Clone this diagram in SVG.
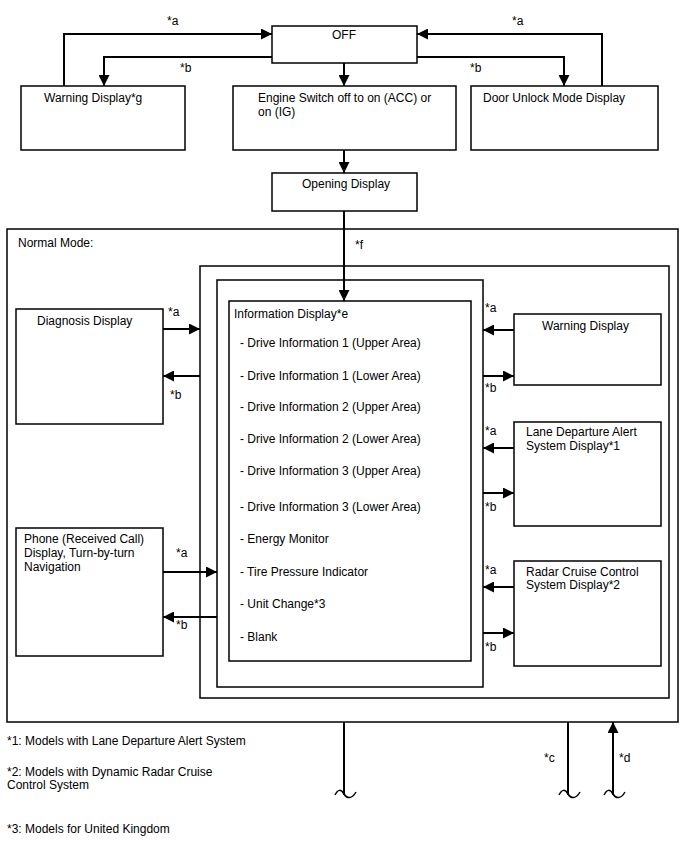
<svg xmlns="http://www.w3.org/2000/svg" width="688" height="852" viewBox="0 0 688 852">
<style>
.box{fill:#fff;stroke:#000;stroke-width:1.5}
.frame{fill:none;stroke:#000;stroke-width:1.5}
.c{fill:none;stroke:#000;stroke-width:2}
.t{fill:none;stroke:#000;stroke-width:1.5}
text{font-family:"Liberation Sans",Arial,sans-serif;font-size:12px;fill:#000}
</style>
<defs>
<marker id="ah" viewBox="0 0 10 10" refX="10" refY="5" markerWidth="11" markerHeight="11" markerUnits="userSpaceOnUse" orient="auto"><path d="M0,0 L10,5 L0,10 z" fill="#000"/></marker>
</defs>
<rect width="688" height="852" fill="#fff"/>
<g id="normal-mode"><rect class="frame" x="7" y="229" width="671" height="493"/><text x="18" y="247">Normal Mode:</text></g>
<g id="frame2"><rect class="frame" x="200" y="266" width="469" height="432"/></g>
<g id="frame3"><rect class="frame" x="217" y="280" width="266" height="407"/></g>
<g id="off"><rect class="box" x="272" y="26" width="145" height="37"/><text x="344" y="39" text-anchor="middle">OFF</text></g>
<g id="warning-g"><rect class="box" x="21" y="86" width="164" height="64"/><text x="44" y="102">Warning Display*g</text></g>
<g id="engine"><rect class="box" x="233" y="86" width="223" height="64"/><text x="258" y="102">Engine Switch off to on (ACC) or</text><text x="258" y="116">on (IG)</text></g>
<g id="door"><rect class="box" x="471" y="86" width="187" height="64"/><text x="483" y="102">Door Unlock Mode Display</text></g>
<g id="opening"><rect class="box" x="272" y="173" width="145" height="38"/><text x="302" y="188">Opening Display</text></g>
<g id="info"><rect class="box" x="229" y="301" width="242" height="360"/>
<text x="234" y="318">Information Display*e</text>
<text x="240" y="347">- Drive Information 1 (Upper Area)</text>
<text x="240" y="380">- Drive Information 1 (Lower Area)</text>
<text x="240" y="411">- Drive Information 2 (Upper Area)</text>
<text x="240" y="443">- Drive Information 2 (Lower Area)</text>
<text x="240" y="475">- Drive Information 3 (Upper Area)</text>
<text x="240" y="511">- Drive Information 3 (Lower Area)</text>
<text x="240" y="543">- Energy Monitor</text>
<text x="240" y="576">- Tire Pressure Indicator</text>
<text x="240" y="608">- Unit Change*3</text>
<text x="240" y="641">- Blank</text>
</g>
<g id="diagnosis"><rect class="box" x="16" y="309" width="147" height="115"/><text x="37" y="325">Diagnosis Display</text></g>
<g id="phone"><rect class="box" x="16" y="528" width="147" height="128"/><text x="24" y="543">Phone (Received Call)</text><text x="24" y="557">Display, Turn-by-turn</text><text x="24" y="571">Navigation</text></g>
<g id="warning"><rect class="box" x="514" y="314" width="147" height="71"/><text x="542" y="330">Warning Display</text></g>
<g id="lane"><rect class="box" x="514" y="422" width="147" height="104"/><text x="526" y="436">Lane Departure Alert</text><text x="526" y="450">System Display*1</text></g>
<g id="radar"><rect class="box" x="514" y="561" width="147" height="105"/><text x="526" y="576">Radar Cruise Control</text><text x="526" y="589">System Display*2</text></g>
<g id="connectors">
<path class="c" d="M64,86 V34 H272" marker-end="url(#ah)"/>
<path class="c" d="M272,57 H104 V86" marker-end="url(#ah)"/>
<path class="c" d="M602,86 V34 H417" marker-end="url(#ah)"/>
<path class="c" d="M417,57 H564 V86" marker-end="url(#ah)"/>
<path class="c" d="M344,63 V86" marker-end="url(#ah)"/>
<path class="c" d="M344,150 V173" marker-end="url(#ah)"/>
<path class="c" d="M344,211 V301" marker-end="url(#ah)"/>
<path class="c" d="M163,329 H200" marker-end="url(#ah)"/>
<path class="c" d="M200,376 H163" marker-end="url(#ah)"/>
<path class="c" d="M163,572 H217" marker-end="url(#ah)"/>
<path class="c" d="M217,617 H163" marker-end="url(#ah)"/>
<path class="c" d="M514,330 H483" marker-end="url(#ah)"/>
<path class="c" d="M483,376 H514" marker-end="url(#ah)"/>
<path class="c" d="M514,448 H483" marker-end="url(#ah)"/>
<path class="c" d="M483,493 H514" marker-end="url(#ah)"/>
<path class="c" d="M514,587 H483" marker-end="url(#ah)"/>
<path class="c" d="M483,633 H514" marker-end="url(#ah)"/>
<path class="c" d="M344,722 V795"/>
<path class="c" d="M568,722 V795"/>
<path class="c" d="M613,795 V722" marker-end="url(#ah)"/>
<path class="t" d="M335,795 c3,-6 6,-6 9,-1 c3,5 8,5 12,-2"/>
<path class="t" d="M559,795 c3,-6 6,-6 9,-1 c3,5 8,5 12,-2"/>
<path class="t" d="M604,795 c3,-6 6,-6 9,-1 c3,5 8,5 12,-2"/>
<text x="167" y="25">*a</text>
<text x="180" y="72">*b</text>
<text x="512" y="25">*a</text>
<text x="470" y="72">*b</text>
<text x="355" y="249">*f</text>
<text x="168" y="316">*a</text>
<text x="170" y="399">*b</text>
<text x="176" y="557">*a</text>
<text x="176" y="629">*b</text>
<text x="485" y="312">*a</text>
<text x="485" y="392">*b</text>
<text x="485" y="435">*a</text>
<text x="485" y="511">*b</text>
<text x="485" y="574">*a</text>
<text x="485" y="651">*b</text>
<text x="544" y="762">*c</text>
<text x="619" y="762">*d</text>
</g>
<g id="notes">
<text x="7" y="745">*1: Models with Lane Departure Alert System</text>
<text x="7" y="776">*2: Models with Dynamic Radar Cruise</text>
<text x="7" y="789">Control System</text>
<text x="7" y="833">*3: Models for United Kingdom</text>
</g>
</svg>
